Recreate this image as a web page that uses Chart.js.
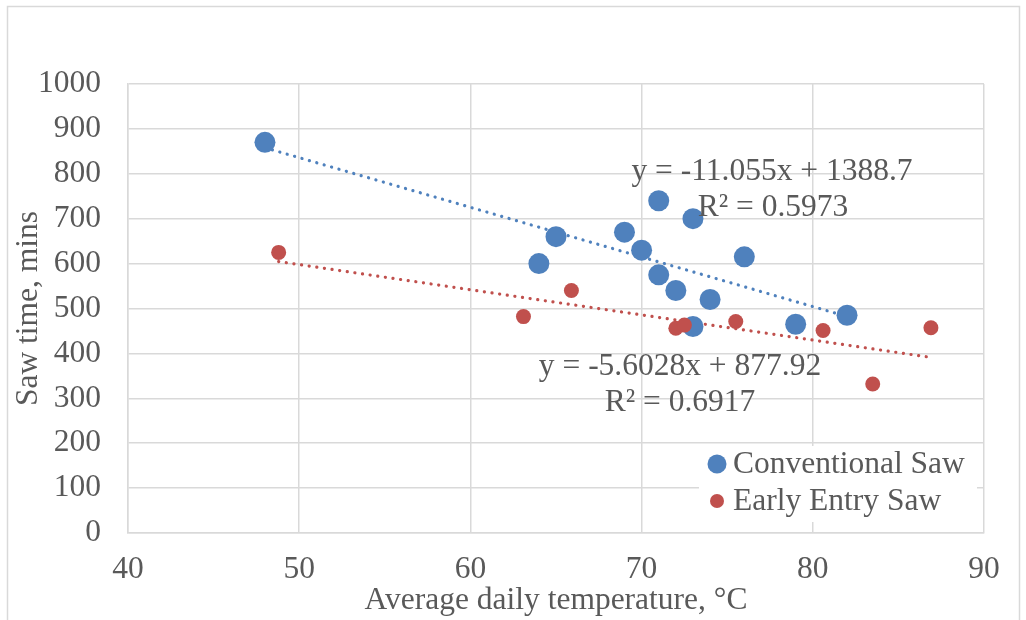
<!DOCTYPE html>
<html>
<head>
<meta charset="utf-8">
<script src="https://cdn.jsdelivr.net/npm/chart.js@4/dist/chart.umd.min.js"></script>
<style>
  html, body { margin: 0; padding: 0; background: #fff; }
  #wrap { width: 1026px; height: 620px; }
</style>
</head>
<body>
<div id="wrap"><canvas id="chart" width="1026" height="620"></canvas></div>
<script>
/* Saw time vs average daily temperature — scatter + linear trendlines */

// === data ===
const convTemp = [48, 64, 65, 69, 70, 71, 71, 72, 73, 73, 74, 76, 79, 82];
const convTime = [870, 600, 660, 670, 630, 740, 575, 540, 700, 460, 520, 615, 465, 485];
const earlyTemp = [48.8, 63.1, 65.9, 72, 72.5, 75.5, 80.6, 83.5, 86.9];
const earlyTime = [625, 482, 540, 456, 463, 471, 451, 332, 457];

// trendline equations as printed on the chart
const convFit = { slope: -11.055, icpt: 1388.7, label: "y = -11.055x + 1388.7", r2: "R² = 0.5973" };
const earlyFit = { slope: -5.6028, icpt: 877.92, label: "y = -5.6028x + 877.92", r2: "R² = 0.6917" };

const xTicks = [40, 50, 60, 70, 80, 90];
const yTicks = [0, 100, 200, 300, 400, 500, 600, 700, 800, 900, 1000];
const seriesNames = ["Conventional Saw", "Early Entry Saw"];

const BLUE = "#4f81bd";
const RED = "#c0504d";
const TXT = "#595959";
const GRID = "#d9d9d9";
const FONT = "'Liberation Serif', 'Times New Roman', serif";
const FSIZE = 31.5;

const pts = (xs, ys) => xs.map((x, i) => ({ x: x, y: ys[i] }));
const fitLine = (xs, f) => {
  const lo = Math.min.apply(null, xs), hi = Math.max.apply(null, xs);
  return [{ x: lo, y: f.slope * lo + f.icpt }, { x: hi, y: f.slope * hi + f.icpt }];
};

// outer frame + legend + equation labels
const decor = {
  id: "decor",
  beforeDraw(chart) {
    const c = chart.ctx;
    c.save();
    c.fillStyle = "#fff";
    c.fillRect(0, 0, chart.width, chart.height);
    c.strokeStyle = GRID;
    c.lineWidth = 1.5;
    c.strokeRect(7.5, 6.5, 1012, 640);
    c.restore();
  },
  afterDatasetsDraw(chart) {
    const c = chart.ctx;
    c.save();
    c.font = FSIZE + "px " + FONT;
    c.fillStyle = TXT;
    c.textAlign = "center";
    c.textBaseline = "middle";
    c.fillText(convFit.label, 772, 172);
    c.fillText(convFit.r2, 773, 208);
    c.fillText(earlyFit.label, 680, 367);
    c.fillText(earlyFit.r2, 680, 403);
    c.restore();
  },
  afterDraw(chart) {
    const c = chart.ctx;
    c.save();
    c.fillStyle = "#fff";
    c.fillRect(699, 446, 278, 76);
    const rows = [[BLUE, 9.5, 464], [RED, 7, 501]];
    rows.forEach((r, i) => {
      c.fillStyle = r[0];
      c.beginPath();
      c.arc(717, r[2], r[1], 0, Math.PI * 2);
      c.fill();
      c.fillStyle = TXT;
      c.font = FSIZE + "px " + FONT;
      c.textAlign = "left";
      c.textBaseline = "middle";
      c.fillText(seriesNames[i], 733, r[2] + 1);
    });
    c.restore();
  },
};

new Chart(document.getElementById("chart"), {
  type: "scatter",
  data: {
    datasets: [
      { label: seriesNames[1], data: pts(earlyTemp, earlyTime), backgroundColor: RED, borderColor: RED,
        pointRadius: 7.5, pointHoverRadius: 7.5, borderWidth: 0, order: 0 },
      { label: seriesNames[0], data: pts(convTemp, convTime), backgroundColor: BLUE, borderColor: BLUE,
        pointRadius: 10.5, pointHoverRadius: 10.5, borderWidth: 0, order: 1 },
      { label: "conv trend", type: "line", data: fitLine(convTemp, convFit), borderColor: BLUE,
        borderWidth: 3.2, borderDash: [0.1, 7.6], borderCapStyle: "round", pointRadius: 0, fill: false, order: 2 },
      { label: "early trend", type: "line", data: fitLine(earlyTemp, earlyFit), borderColor: RED,
        borderWidth: 3.2, borderDash: [0.1, 7.6], borderCapStyle: "round", pointRadius: 0, fill: false, order: 3 },
    ],
  },
  options: {
    responsive: false,
    animation: false,
    layout: { padding: { left: 0, top: 84, right: 42, bottom: 0 } },
    plugins: { legend: { display: false }, tooltip: { enabled: false } },
    scales: {
      x: {
        type: "linear", min: xTicks[0], max: xTicks[xTicks.length - 1],
        afterBuildTicks: s => { s.ticks = xTicks.map(v => ({ value: v })); },
        afterFit: s => { s.height = 87; },
        grid: { color: GRID, lineWidth: 1.5, drawTicks: false },
        border: { color: GRID, width: 1.5 },
        ticks: { color: TXT, font: { family: FONT, size: FSIZE }, padding: 18, callback: v => String(v) },
        title: { display: true, text: "Average daily temperature, °C", color: TXT,
          font: { family: FONT, size: FSIZE }, padding: { top: 0, bottom: 0 } },
      },
      y: {
        type: "linear", min: yTicks[0], max: yTicks[yTicks.length - 1],
        afterBuildTicks: s => { s.ticks = yTicks.map(v => ({ value: v })); },
        afterFit: s => { s.width = 128; },
        grid: { color: GRID, lineWidth: 1.5, drawTicks: false },
        border: { color: GRID, width: 1.5 },
        ticks: { color: TXT, font: { family: FONT, size: FSIZE }, padding: 27, callback: v => String(v) },
        title: { display: true, text: "Saw time, mins", color: TXT,
          font: { family: FONT, size: FSIZE }, padding: { top: 10, bottom: 0 } },
      },
    },
  },
  plugins: [decor],
});
</script>
</body>
</html>
